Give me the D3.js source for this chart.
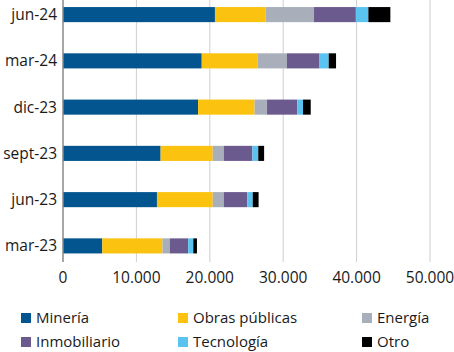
<!DOCTYPE html>
<html>
<head>
<meta charset="utf-8">
<script src="https://cdn.jsdelivr.net/npm/d3@7"></script>
<style>
  body { margin: 0; background: #fff; }
  text { font-family: "Open Sans", sans-serif; fill: #1a1a1a; }
</style>
</head>
<body>
<svg id="chart" width="454" height="352"></svg>
<script>
// periods, top to bottom
const periods = ["jun-24", "mar-24", "dic-23", "sept-23", "jun-23", "mar-23"];
const sectors = ["Minería", "Obras públicas", "Energía", "Inmobiliario", "Tecnología", "Otro"];
const sectorColors = ["#02558f", "#fbc20f", "#a8aeba", "#6a5a8e", "#5ac3f0", "#000000"];

const mineria      = [20700, 18900, 18400, 13300, 12800, 5350];
const obrasPublicas = [6900, 7600, 7700, 7100, 7600, 8200];
const energia      = [6600, 4000, 1700, 1500, 1500, 1000];
const inmobiliario = [5700, 4450, 4100, 3900, 3200, 2500];
const tecnologia   = [1700, 1250, 800, 800, 750, 700];
const otro         = [3000, 1000, 1050, 800, 800, 500];

const xTicks = [0, 10000, 20000, 30000, 40000, 50000];

const rows = periods.map((p, i) => ({
  period: p,
  "Minería": mineria[i],
  "Obras públicas": obrasPublicas[i],
  "Energía": energia[i],
  "Inmobiliario": inmobiliario[i],
  "Tecnología": tecnologia[i],
  "Otro": otro[i]
}));

const svg = d3.select("#chart");
const plot = { left: 63, right: 430, top: 0, bottom: 262 };

const x = d3.scaleLinear().domain([0, 50000]).range([plot.left, plot.right]);
const y = d3.scaleBand().domain(periods).range([plot.top - 1.5, plot.bottom]).paddingInner(0.674).paddingOuter(0.185);
const color = d3.scaleOrdinal().domain(sectors).range(sectorColors);
const fmt = d3.formatLocale({decimal: ",", thousands: ".", grouping: [3], currency: ["", ""]}).format(",.0f");

// gridlines
svg.append("g")
    .attr("class", "grid")
  .selectAll("line")
  .data(xTicks.slice(1))
  .enter().append("line")
    .attr("x1", d => x(d)).attr("x2", d => x(d))
    .attr("y1", plot.top).attr("y2", plot.bottom)
    .style("stroke", "#cfcfcf")
    .style("stroke-width", 1);

const stack = d3.stack().keys(sectors)(rows);

svg.append("g")
  .selectAll("g")
  .data(stack)
  .enter().append("g")
    .style("fill", d => color(d.key))
  .selectAll("rect")
  .data(d => d)
  .enter().append("rect")
    .attr("x", d => x(d[0]))
    .attr("width", d => x(d[1]) - x(d[0]))
    .attr("y", d => y(d.data.period))
    .attr("height", y.bandwidth());

// y axis line
svg.append("line")
    .attr("x1", plot.left).attr("x2", plot.left)
    .attr("y1", plot.top).attr("y2", plot.bottom)
    .style("stroke", "#888")
    .style("stroke-width", 1.5);

// y labels
svg.append("g")
  .selectAll("text")
  .data(periods)
  .enter().append("text")
    .attr("x", plot.left - 6)
    .attr("y", d => y(d) + y.bandwidth() / 2)
    .attr("dy", "0.35em")
    .attr("text-anchor", "end")
    .style("font-size", "15.5px")
    .text(d => d);

// x tick labels
svg.append("g")
  .selectAll("text")
  .data(xTicks)
  .enter().append("text")
    .attr("x", d => x(d))
    .attr("y", 278)
    .attr("dy", "0.35em")
    .attr("text-anchor", "middle")
    .style("font-size", "15.5px")
    .text(d => fmt(d));

// legend
const legendX = [21, 178, 362];
const legendY = [318, 342];
const legend = svg.append("g")
  .selectAll("g")
  .data(sectors)
  .enter().append("g")
    .attr("transform", (d, i) => `translate(${legendX[i % 3]},${legendY[Math.floor(i / 3)]})`);

legend.append("rect")
    .attr("x", 0).attr("y", -5)
    .attr("width", 10).attr("height", 10)
    .style("fill", d => color(d));

legend.append("text")
    .attr("x", 15)
    .attr("dy", "0.35em")
    .style("font-size", "15px")
    .text(d => d);
</script>
</body>
</html>
